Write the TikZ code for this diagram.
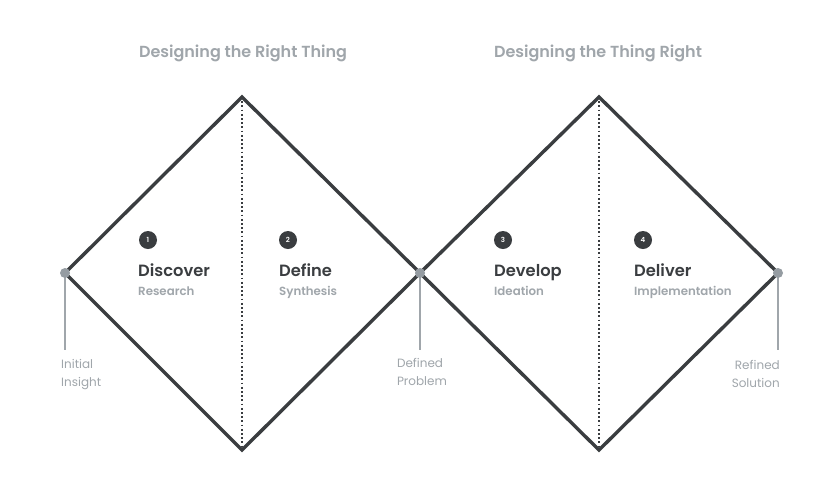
\documentclass[tikz,border=0pt]{standalone}
\usepackage{fontspec}
\IfFontExistsTF{Poppins SemiBold}
  {\setmainfont{Poppins}[BoldFont={* SemiBold}]}
  {\setmainfont{Poppins}[BoldFont={* Medium}]}
\begin{document}
\begin{tikzpicture}[x=1pt,y=-1pt,
  diam/.style={line width=3.4pt,draw=dark,line join=miter},
  divider/.style={line width=1.8pt,draw=dark,dash pattern=on 1.8pt off 2.4pt},
  stem/.style={line width=2pt,draw=lightgrey},
  dotnode/.style={circle,fill=dotgrey,inner sep=0pt,minimum size=10pt},
  numc/.style={circle,fill=dark,text=white,inner sep=0pt,minimum size=18pt,font=\bfseries\fontsize{7}{8}\selectfont},
  phase/.style={anchor=base west,inner sep=0pt,text=dark,font=\bfseries\fontsize{16.3}{20}\selectfont},
  sub/.style={anchor=base west,inner sep=0pt,text=lightgrey,font=\bfseries\fontsize{11.8}{14}\selectfont},
  head/.style={inner sep=0pt,text=lightgrey,font=\bfseries\fontsize{16}{20}\selectfont},
  endlbl/.style={inner sep=0pt,text=lightgrey,font=\fontsize{12}{18}\selectfont}]
\definecolor{dark}{HTML}{3A3D40}
\definecolor{lightgrey}{HTML}{A0A6AB}
\definecolor{dotgrey}{HTML}{959CA2}
\fill[white] (0,0) rectangle (840,499);
\useasboundingbox (0,0) rectangle (840,499);
% vertices
\coordinate (L) at (65,273);
\coordinate (T1) at (242,97);
\coordinate (M) at (420,273);
\coordinate (B1) at (242,450);
\coordinate (T2) at (599,97);
\coordinate (R) at (778,273);
\coordinate (B2) at (599,450);
% dividers
\draw[divider] (T1) -- (B1);
\draw[divider] (T2) -- (B2);
% diamonds
\draw[diam] (L) -- (T1) -- (M) -- (B1) -- cycle;
\draw[diam] (M) -- (T2) -- (R) -- (B2) -- cycle;
% stems and dots
\coordinate (s1) at (65,350);
\coordinate (s2) at (420,350);
\coordinate (s3) at (778,350);
\draw[stem] (L) -- (s1);
\draw[stem] (M) -- (s2);
\draw[stem] (R) -- (s3);
\node[dotnode] (d1) at (L) {};
\node[dotnode] (d2) at (M) {};
\node[dotnode] (d3) at (R) {};
% headings
\node[head] (h1) at (243,53) {Designing the Right Thing};
\node[head] (h2) at (598,53) {Designing the Thing Right};
% numbers
\node[numc] (n1) at (148,240) {1};
\node[numc] (n2) at (288,240) {2};
\node[numc] (n3) at (503,240) {3};
\node[numc] (n4) at (643,240) {4};
% phases
\node[phase] (p1) at (138,276) {Discover};
\node[sub] (q1) at (138,295) {Research};
\node[phase] (p2) at (279,276) {Define};
\node[sub] (q2) at (279,295) {Synthesis};
\node[phase] (p3) at (494,276) {Develop};
\node[sub] (q3) at (494,295) {Ideation};
\node[phase] (p4) at (634,276) {Deliver};
\node[sub] (q4) at (634,295) {Implementation};
% end labels
\node[endlbl,anchor=north west,align=left] (e1) at (61,359) {Initial\\Insight};
\node[endlbl,anchor=north,align=left] (e2) at (422,358) {Defined\\Problem};
\node[endlbl,anchor=north east,align=right] (e3) at (780,360) {Refined\\Solution};
\end{tikzpicture}
\end{document}
